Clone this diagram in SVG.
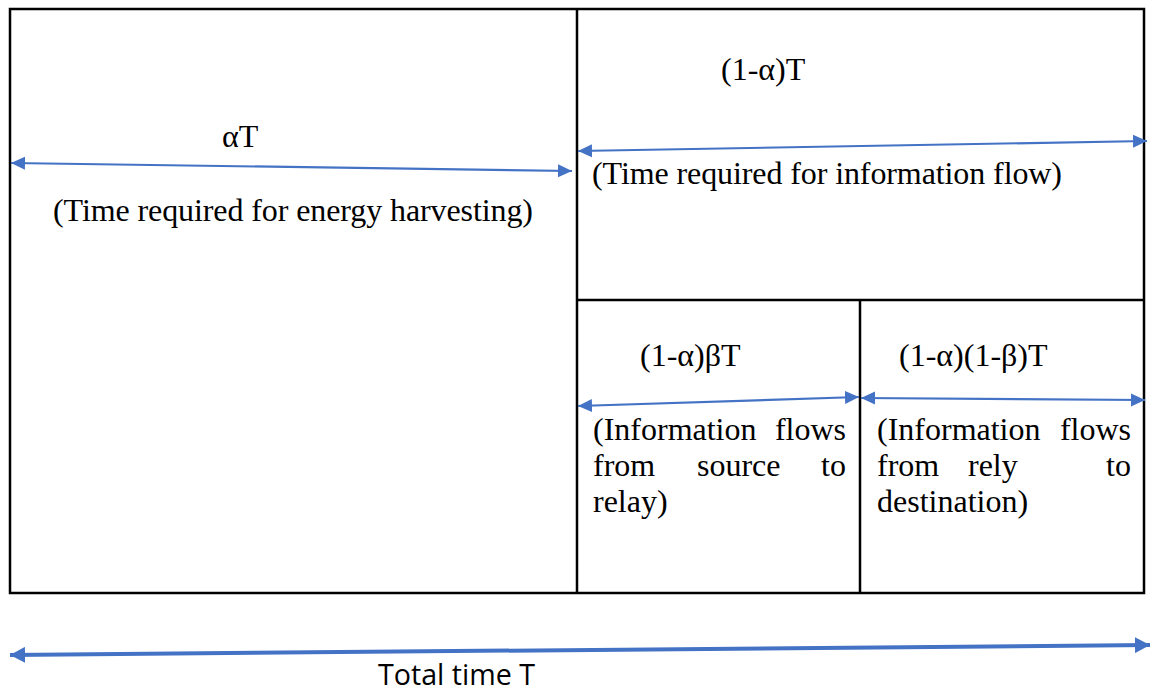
<svg xmlns="http://www.w3.org/2000/svg" width="1152" height="691" viewBox="0 0 1152 691">
<style>
.box{fill:none;stroke:#000;stroke-width:2.5}
.t{font-family:"Liberation Serif","Times New Roman",serif;font-size:32px;fill:#000}
.s{font-family:"Open Sans","Liberation Sans",sans-serif;font-size:29px;fill:#000}
.a{stroke:#4472C4;stroke-width:2.2;fill:none;marker-start:url(#h);marker-end:url(#h)}
.ab{stroke:#4472C4;stroke-width:4;fill:none;marker-start:url(#hb);marker-end:url(#hb)}
</style>
<defs>
<marker id="h" viewBox="0 0 14 14" refX="14" refY="7" markerWidth="14" markerHeight="14" markerUnits="userSpaceOnUse" orient="auto-start-reverse"><path d="M0,0.5 L14,7 L0,13.5 Z" fill="#4472C4"/></marker>
<marker id="hb" viewBox="0 0 15 16" refX="15" refY="8" markerWidth="15" markerHeight="16" markerUnits="userSpaceOnUse" orient="auto-start-reverse"><path d="M0,0 L15,8 L0,16 Z" fill="#4472C4"/></marker>
</defs>
<g id="frame">
<rect class="box" x="10" y="9" width="1134" height="584"/>
<line class="box" x1="577" y1="9" x2="577" y2="593"/>
<line class="box" x1="577" y1="300" x2="1144" y2="300"/>
<line class="box" x1="860" y1="300" x2="860" y2="593"/>
</g>
<g id="connectors">
<line class="a" x1="11" y1="163" x2="572" y2="171"/>
<line class="a" x1="578" y1="151" x2="1147" y2="141"/>
<line class="a" x1="578" y1="406" x2="859" y2="397"/>
<line class="a" x1="861" y1="398" x2="1145" y2="400"/>
<line class="ab" x1="10" y1="655" x2="1150" y2="645"/>
</g>
<g id="energy">
<text class="t" x="222" y="147">αT</text>
<text class="t" x="53" y="221" textLength="480" lengthAdjust="spacing">(Time required for energy harvesting)</text>
</g>
<g id="info">
<text class="t" x="721" y="80">(1-α)T</text>
<text class="t" x="592" y="184" textLength="470" lengthAdjust="spacing">(Time required for information flow)</text>
</g>
<g id="source-relay">
<text class="t" x="640" y="366">(1-α)βT</text>
<text class="t" x="593" y="440">(Information</text>
<text class="t" x="846" y="440" text-anchor="end">flows</text>
<text class="t" x="593" y="476">from</text>
<text class="t" x="697" y="476">source</text>
<text class="t" x="846" y="476" text-anchor="end">to</text>
<text class="t" x="593" y="512">relay)</text>
</g>
<g id="relay-destination">
<text class="t" x="899" y="366">(1-α)(1-β)T</text>
<text class="t" x="877" y="440">(Information</text>
<text class="t" x="1131" y="440" text-anchor="end">flows</text>
<text class="t" x="877" y="476">from</text>
<text class="t" x="968" y="476">rely</text>
<text class="t" x="1131" y="476" text-anchor="end">to</text>
<text class="t" x="877" y="512">destination)</text>
</g>
<g id="total">
<text class="s" x="378" y="685" textLength="157" lengthAdjust="spacingAndGlyphs">Total time T</text>
</g>
</svg>
